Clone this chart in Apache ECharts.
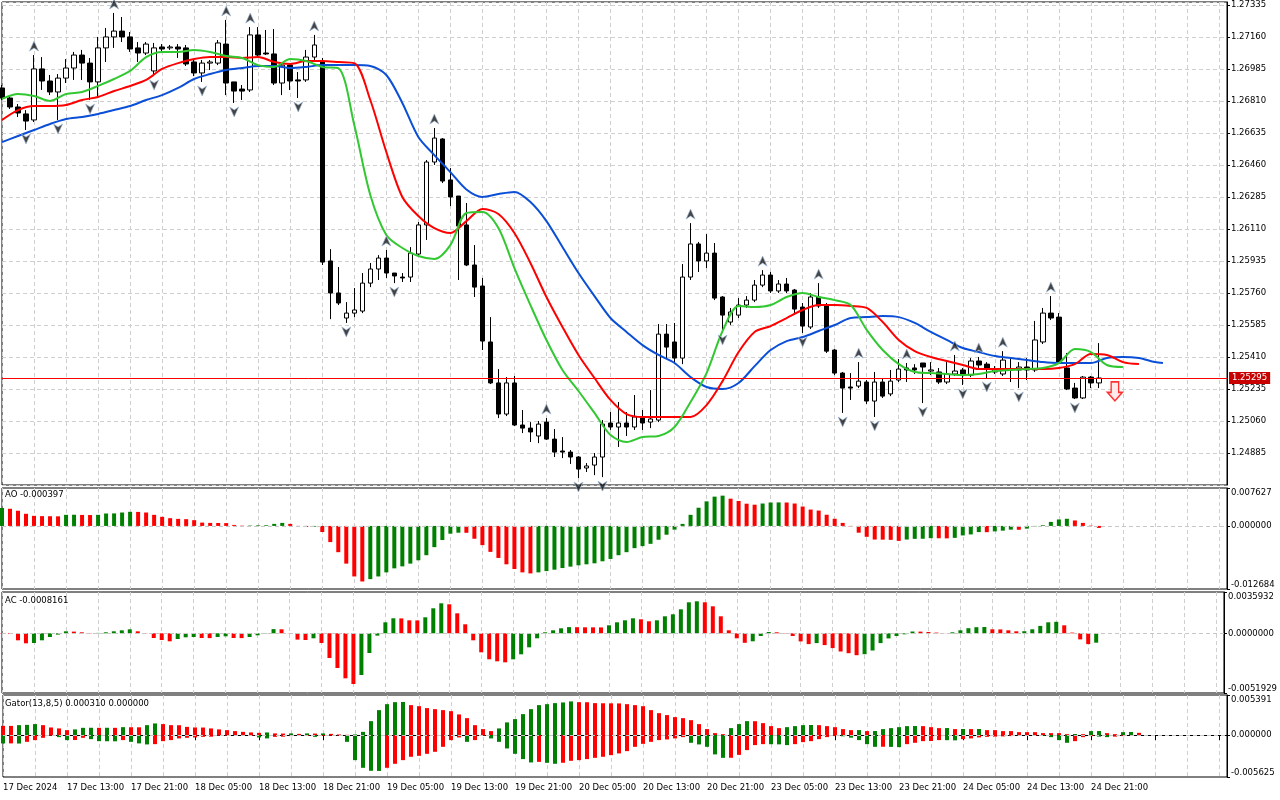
<!DOCTYPE html>
<html>
<head>
<meta charset="utf-8">
<title>H1 chart with Alligator, Fractals, AO, AC, Gator</title>
<script src="https://cdn.jsdelivr.net/npm/echarts@6/dist/echarts.min.js"></script>
<style>
html, body { margin: 0; padding: 0; background: #fff; }
#chart { width: 1280px; height: 800px; }
</style>
</head>
<body>
<div id="chart"></div>
<script>
// time axis labels, one every 8 bars
var tickLabels = ['17 Dec 2024', '17 Dec 13:00', '17 Dec 21:00', '18 Dec 05:00', '18 Dec 13:00', '18 Dec 21:00',
    '19 Dec 05:00', '19 Dec 13:00', '19 Dec 21:00', '20 Dec 05:00', '20 Dec 13:00', '20 Dec 21:00',
    '23 Dec 05:00', '23 Dec 13:00', '23 Dec 21:00', '24 Dec 05:00', '24 Dec 13:00', '24 Dec 21:00'];

var opens = [1.26881, 1.26826, 1.26777, 1.26739, 1.26706, 1.26985, 1.26919, 1.26859, 1.26935, 1.26990,
    1.27061, 1.27017, 1.26914, 1.27100, 1.27160, 1.27192, 1.27160, 1.27100, 1.27072, 1.26974,
    1.27105, 1.27100, 1.27105, 1.27100, 1.27023, 1.26963, 1.27017, 1.27017, 1.27121, 1.26914,
    1.26875, 1.26870, 1.27171, 1.27072, 1.27067, 1.26908, 1.27006, 1.26925, 1.26925, 1.27050,
    1.27023, 1.25935, 1.25760, 1.25623, 1.25650, 1.25661, 1.25814, 1.25891, 1.25951, 1.25869,
    1.25847, 1.25847, 1.25973, 1.26132, 1.26476, 1.26602, 1.26378, 1.26290, 1.26132, 1.25913,
    1.25798, 1.25492, 1.25268, 1.25098, 1.25268, 1.25038, 1.25021, 1.24978, 1.25054, 1.24961,
    1.24896, 1.24890, 1.24863, 1.24803, 1.24819, 1.24863, 1.25049, 1.25027, 1.25049, 1.25027,
    1.25076, 1.25054, 1.25065, 1.25535, 1.25492, 1.25404, 1.25847, 1.26028, 1.25935, 1.25978,
    1.25738, 1.25601, 1.25639, 1.25694, 1.25721, 1.25803, 1.25858, 1.25771, 1.25809, 1.25776,
    1.25683, 1.25574, 1.25738, 1.25689, 1.25448, 1.25322, 1.25246, 1.25251, 1.25273, 1.25169,
    1.25273, 1.25208, 1.25284, 1.25350, 1.25350, 1.25377, 1.25333, 1.25328, 1.25273, 1.25317,
    1.25339, 1.25311, 1.25388, 1.25371, 1.25328, 1.25317, 1.25339, 1.25339, 1.25355, 1.25339,
    1.25492, 1.25650, 1.25628, 1.25350, 1.25240, 1.25186, 1.25300, 1.25268];
var highs = [1.26897, 1.26837, 1.26793, 1.26760, 1.27061, 1.27050, 1.26952, 1.26957, 1.27039, 1.27078,
    1.27089, 1.27045, 1.27160, 1.27209, 1.27291, 1.27269, 1.27187, 1.27132, 1.27132, 1.27127,
    1.27121, 1.27116, 1.27121, 1.27116, 1.27034, 1.27034, 1.27034, 1.27143, 1.27253, 1.26914,
    1.26897, 1.27214, 1.27214, 1.27198, 1.27203, 1.27017, 1.27012, 1.26968, 1.27089, 1.27171,
    1.27045, 1.26000, 1.25902, 1.25710, 1.25787, 1.25869, 1.25924, 1.25967, 1.25995, 1.25869,
    1.25869, 1.26011, 1.26148, 1.26487, 1.26662, 1.26607, 1.26443, 1.26290, 1.26252, 1.26022,
    1.25842, 1.25628, 1.25344, 1.25300, 1.25306, 1.25120, 1.25054, 1.25060, 1.25076, 1.25016,
    1.24972, 1.24901, 1.24868, 1.24830, 1.24885, 1.25065, 1.25109, 1.25164, 1.25109, 1.25202,
    1.25120, 1.25229, 1.25590, 1.25590, 1.25596, 1.25918, 1.26142, 1.26039, 1.26082, 1.26033,
    1.25743, 1.25678, 1.25732, 1.25743, 1.25831, 1.25885, 1.25875, 1.25831, 1.25842, 1.25782,
    1.25705, 1.25760, 1.25814, 1.25705, 1.25453, 1.25328, 1.25322, 1.25382, 1.25284, 1.25328,
    1.25295, 1.25339, 1.25399, 1.25377, 1.25371, 1.25377, 1.25382, 1.25350, 1.25382, 1.25421,
    1.25350, 1.25404, 1.25410, 1.25382, 1.25360, 1.25442, 1.25404, 1.25382, 1.25404, 1.25607,
    1.25678, 1.25743, 1.25650, 1.25432, 1.25268, 1.25306, 1.25306, 1.25486];
var lows = [1.26815, 1.26766, 1.26722, 1.26651, 1.26695, 1.26870, 1.26842, 1.26706, 1.26908, 1.26925,
    1.26925, 1.26815, 1.26832, 1.27023, 1.27100, 1.27132, 1.27078, 1.27023, 1.27061, 1.26946,
    1.27078, 1.27089, 1.27045, 1.27001, 1.26946, 1.26914, 1.26979, 1.27006, 1.26842, 1.26799,
    1.26815, 1.26859, 1.27045, 1.27061, 1.26897, 1.26842, 1.26870, 1.26826, 1.26914, 1.27034,
    1.25913, 1.25617, 1.25694, 1.25596, 1.25628, 1.25650, 1.25792, 1.25831, 1.25842, 1.25814,
    1.25820, 1.25820, 1.25962, 1.26050, 1.26460, 1.26361, 1.26235, 1.25831, 1.25907, 1.25738,
    1.25448, 1.25262, 1.25076, 1.25087, 1.25032, 1.24994, 1.24945, 1.24939, 1.24956, 1.24863,
    1.24857, 1.24825, 1.24748, 1.24781, 1.24764, 1.24753, 1.25011, 1.24918, 1.24978, 1.25011,
    1.25011, 1.25021, 1.25054, 1.25399, 1.25371, 1.25371, 1.25831, 1.25875, 1.25896, 1.25721,
    1.25552, 1.25585, 1.25623, 1.25678, 1.25710, 1.25792, 1.25760, 1.25760, 1.25760, 1.25650,
    1.25541, 1.25563, 1.25678, 1.25432, 1.25311, 1.25104, 1.25175, 1.25240, 1.25153, 1.25082,
    1.25186, 1.25196, 1.25273, 1.25273, 1.25317, 1.25158, 1.25311, 1.25262, 1.25262, 1.25306,
    1.25257, 1.25300, 1.25350, 1.25295, 1.25317, 1.25306, 1.25273, 1.25240, 1.25284, 1.25328,
    1.25481, 1.25612, 1.25377, 1.25229, 1.25180, 1.25180, 1.25240, 1.25240];
var closes = [1.26826, 1.26777, 1.26744, 1.26700, 1.26985, 1.26919, 1.26859, 1.26935, 1.26990, 1.27061,
    1.27017, 1.26914, 1.27100, 1.27160, 1.27192, 1.27160, 1.27094, 1.27072, 1.27121, 1.27100,
    1.27094, 1.27105, 1.27094, 1.27012, 1.26963, 1.27017, 1.27023, 1.27127, 1.26908, 1.26864,
    1.26864, 1.27171, 1.27061, 1.27067, 1.26908, 1.27006, 1.26919, 1.26919, 1.27050, 1.27116,
    1.25929, 1.25760, 1.25705, 1.25650, 1.25667, 1.25814, 1.25891, 1.25951, 1.25869, 1.25853,
    1.25842, 1.25978, 1.26132, 1.26476, 1.26607, 1.26372, 1.26285, 1.26126, 1.25913, 1.25792,
    1.25497, 1.25268, 1.25098, 1.25268, 1.25038, 1.25021, 1.25000, 1.25043, 1.24961, 1.24890,
    1.24890, 1.24863, 1.24797, 1.24814, 1.24863, 1.25043, 1.25027, 1.25049, 1.25027, 1.25082,
    1.25049, 1.25071, 1.25535, 1.25464, 1.25404, 1.25847, 1.26028, 1.25935, 1.25978, 1.25732,
    1.25639, 1.25656, 1.25694, 1.25721, 1.25803, 1.25858, 1.25771, 1.25809, 1.25771, 1.25672,
    1.25579, 1.25738, 1.25689, 1.25442, 1.25322, 1.25240, 1.25240, 1.25278, 1.25169, 1.25273,
    1.25196, 1.25278, 1.25344, 1.25339, 1.25339, 1.25355, 1.25339, 1.25273, 1.25317, 1.25333,
    1.25311, 1.25388, 1.25366, 1.25344, 1.25344, 1.25393, 1.25344, 1.25355, 1.25339, 1.25503,
    1.25650, 1.25623, 1.25382, 1.25235, 1.25186, 1.25300, 1.25268, 1.25295];

// Alligator lines [bar, price]; read every second bar, already shifted forward
var jaw = [[0,1.26585],[2,1.26618],[4,1.26651],[6,1.26684],[8,1.26711],[10,1.26722],[12,1.26739],[14,1.26760],
    [16,1.26782],[18,1.26815],[20,1.26842],[22,1.26881],[24,1.26930],[26,1.26957],[28,1.26979],[30,1.26990],
    [32,1.27001],[34,1.27001],[36,1.26990],[38,1.26996],[40,1.27006],[42,1.27006],[44,1.27006],[46,1.27001],
    [48,1.26952],[50,1.26799],[52,1.26613],[54,1.26514],[56,1.26421],[58,1.26326],[60,1.26285],[62,1.26301],
    [64,1.26312],[66,1.26257],[68,1.26153],[70,1.26011],[72,1.25869],[74,1.25743],[76,1.25623],[78,1.25547],
    [80,1.25475],[82,1.25421],[84,1.25377],[86,1.25300],[88,1.25246],[90,1.25235],[92,1.25268],[94,1.25360],
    [96,1.25448],[98,1.25497],[100,1.25519],[102,1.25552],[104,1.25585],[106,1.25623],[108,1.25628],[110,1.25634],
    [112,1.25628],[114,1.25596],[116,1.25547],[118,1.25503],[120,1.25459],[122,1.25437],[124,1.25415],[126,1.25404],
    [128,1.25393],[130,1.25382],[132,1.25377],[134,1.25377],[136,1.25377],[138,1.25404],[140,1.25410],[142,1.25404],
    [144,1.25382],[145,1.25377]];
var teeth = [[0,1.26706],[2,1.26760],[4,1.26782],[6,1.26782],[8,1.26788],[10,1.26815],[12,1.26832],[14,1.26864],
    [16,1.26892],[18,1.26925],[20,1.26985],[22,1.27017],[24,1.27039],[26,1.27050],[28,1.27050],[30,1.27045],
    [32,1.27050],[34,1.27023],[36,1.27012],[38,1.27028],[40,1.27028],[42,1.27023],[44,1.27017],[46,1.26815],
    [48,1.26531],[50,1.26285],[52,1.26181],[54,1.26115],[56,1.26088],[58,1.26153],[60,1.26219],[62,1.26192],
    [64,1.26088],[66,1.25924],[68,1.25738],[70,1.25574],[72,1.25421],[74,1.25295],[76,1.25175],[78,1.25098],
    [80,1.25082],[82,1.25082],[84,1.25082],[86,1.25082],[88,1.25147],[90,1.25278],[92,1.25437],[94,1.25547],
    [96,1.25579],[98,1.25623],[100,1.25667],[102,1.25694],[104,1.25694],[106,1.25689],[108,1.25678],[110,1.25601],
    [112,1.25503],[114,1.25442],[116,1.25410],[118,1.25388],[120,1.25366],[122,1.25344],[124,1.25344],[126,1.25344],
    [128,1.25344],[130,1.25344],[132,1.25350],[134,1.25371],[136,1.25426],[138,1.25421],[140,1.25382],[142,1.25371]];
var lips = [[0,1.26821],[2,1.26848],[4,1.26837],[6,1.26810],[8,1.26848],[10,1.26859],[12,1.26892],[14,1.26930],
    [16,1.26974],[18,1.27050],[20,1.27078],[22,1.27078],[24,1.27089],[26,1.27078],[28,1.27056],[30,1.27045],
    [32,1.27006],[34,1.26996],[36,1.27039],[38,1.27028],[40,1.26996],[42,1.26990],[44,1.26678],[46,1.26296],
    [48,1.26077],[50,1.26006],[52,1.25962],[54,1.25946],[56,1.26022],[58,1.26197],[60,1.26203],[62,1.26115],
    [64,1.25896],[66,1.25694],[68,1.25503],[70,1.25339],[72,1.25224],[74,1.25104],[76,1.24983],[78,1.24945],
    [80,1.24972],[82,1.24978],[84,1.25027],[86,1.25164],[88,1.25322],[90,1.25552],[92,1.25689],[94,1.25683],
    [96,1.25694],[98,1.25738],[100,1.25760],[102,1.25738],[104,1.25721],[106,1.25694],[108,1.25558],[110,1.25448],
    [112,1.25371],[114,1.25328],[116,1.25322],[118,1.25317],[120,1.25311],[122,1.25317],[124,1.25333],[126,1.25339],
    [128,1.25344],[130,1.25350],[132,1.25377],[134,1.25453],[136,1.25437],[138,1.25366],[140,1.25355]];

// bars carrying a fractal
var fractalUp = [4, 14, 28, 31, 39, 48, 54, 68, 86, 95, 102, 107, 113, 119, 122, 125, 131];
var fractalDown = [3, 7, 11, 19, 25, 29, 37, 43, 49, 72, 75, 90, 100, 105, 109, 115, 120, 123, 127, 134];
var sellSignal = [139, 1.25222];

var aoValues = [0.00360, 0.00345, 0.00305, 0.00244, 0.00203, 0.00197, 0.00195, 0.00193, 0.00223, 0.00225,
    0.00221, 0.00219, 0.00223, 0.00250, 0.00252, 0.00270, 0.00284, 0.00282, 0.00270, 0.00223,
    0.00183, 0.00156, 0.00142, 0.00136, 0.00116, 0.00067, 0.00061, 0.00059, 0.00057, 0.00020,
    0.00006, 0.00008, 0.00012, 0.00014, 0.00041, 0.00061, 0.00041, 0.00002, -0.00020, -0.00014,
    -0.00122, -0.00325, -0.00528, -0.00758, -0.01016, -0.01117, -0.01070, -0.01016, -0.00934, -0.00853,
    -0.00813, -0.00758, -0.00691, -0.00589, -0.00427, -0.00284, -0.00156, -0.00136, -0.00138, -0.00258,
    -0.00386, -0.00522, -0.00644, -0.00772, -0.00867, -0.00934, -0.00955, -0.00934, -0.00908, -0.00880,
    -0.00847, -0.00819, -0.00792, -0.00772, -0.00752, -0.00711, -0.00664, -0.00589, -0.00528, -0.00447,
    -0.00406, -0.00360, -0.00278, -0.00177, -0.00075, 0.00041, 0.00223, 0.00366, 0.00494, 0.00589,
    0.00609, 0.00548, 0.00502, 0.00447, 0.00427, 0.00451, 0.00471, 0.00473, 0.00471, 0.00451,
    0.00390, 0.00329, 0.00309, 0.00225, 0.00144, 0.00061, -0.00020, -0.00136, -0.00219, -0.00274,
    -0.00276, -0.00280, -0.00301, -0.00274, -0.00260, -0.00258, -0.00246, -0.00248, -0.00250, -0.00240,
    -0.00191, -0.00171, -0.00124, -0.00126, -0.00110, -0.00095, -0.00075, -0.00077, -0.00055, -0.00008,
    0.00014, 0.00081, 0.00130, 0.00144, 0.00110, 0.00061, 0.00006, -0.000397];
var acValues = [-0.000026, -0.000061, -0.000609, -0.000870, -0.000844, -0.000609, -0.000322, -0.000113, 0.000174, 0.000148,
    0.000087, 0.000026, 0.000035, 0.000087, 0.000174, 0.000261, 0.000348, 0.000174, -0.000017, -0.000409,
    -0.000583, -0.000696, -0.000496, -0.000348, -0.000322, -0.000409, -0.000418, -0.000322, -0.000261, -0.000409,
    -0.000418, -0.000322, -0.000174, -0.000026, 0.000365, 0.000348, -0.000017, -0.000548, -0.000583, -0.000435,
    -0.000844, -0.002149, -0.003019, -0.003915, -0.004411, -0.003628, -0.001714, -0.000200, 0.000957, 0.001305,
    0.001296, 0.001131, 0.001122, 0.001392, 0.002175, 0.002610, 0.002523, 0.001740, 0.000783, -0.000609,
    -0.001653, -0.002262, -0.002436, -0.002523, -0.002262, -0.001827, -0.001218, -0.000435, 0.000087, 0.000261,
    0.000435, 0.000539, 0.000531, 0.000522, 0.000518, 0.000513, 0.000696, 0.000957, 0.001131, 0.001305,
    0.001218, 0.001044, 0.001131, 0.001479, 0.001653, 0.002088, 0.002697, 0.002784, 0.002697, 0.002349,
    0.001479, 0.000261, -0.000435, -0.000827, -0.000696, -0.000235, 0.000113, 0.000087, 0.000026, -0.000235,
    -0.000705, -0.000940, -0.000853, -0.001027, -0.001288, -0.001583, -0.001731, -0.001905, -0.001818, -0.001496,
    -0.000853, -0.000444, -0.000235, -0.000087, 0.000157, 0.000148, 0.000113, 0.000061, -0.000009, 0.000087,
    0.000261, 0.000444, 0.000531, 0.000548, 0.000348, 0.000339, 0.000261, 0.000174, 0.000183, 0.000348,
    0.000644, 0.000957, 0.001000, 0.000696, 0.000061, -0.000531, -0.000940, -0.0008161];
var gatorUp = [0.00125, 0.00124, 0.00134, 0.00138, 0.00148, 0.00134, 0.00103, 0.00090, 0.00067, 0.00077,
    0.00098, 0.00099, 0.00098, 0.00099, 0.00098, 0.00107, 0.00106, 0.00105, 0.00134, 0.00157,
    0.00148, 0.00134, 0.00133, 0.00111, 0.00103, 0.00102, 0.00090, 0.00077, 0.00067, 0.00054,
    0.00044, 0.00036, 0.00031, 0.00036, 0.00023, 0.00021, 0.00023, 0.00017, 0.00023, 0.00021,
    0.00023, 0.00017, 0.00009, 0.00004, 0.00009, 0.00044, 0.00188, 0.00336, 0.00416, 0.00443,
    0.00445, 0.00403, 0.00389, 0.00363, 0.00349, 0.00336, 0.00322, 0.00278, 0.00228, 0.00134,
    0.00081, 0.00054, 0.00090, 0.00171, 0.00215, 0.00282, 0.00349, 0.00403, 0.00416, 0.00430,
    0.00439, 0.00453, 0.00443, 0.00442, 0.00430, 0.00428, 0.00427, 0.00426, 0.00416, 0.00403,
    0.00389, 0.00336, 0.00295, 0.00269, 0.00242, 0.00228, 0.00201, 0.00148, 0.00081, 0.00027,
    0.00013, 0.00094, 0.00148, 0.00188, 0.00187, 0.00161, 0.00121, 0.00094, 0.00107, 0.00121,
    0.00134, 0.00136, 0.00134, 0.00121, 0.00107, 0.00081, 0.00067, 0.00068, 0.00054, 0.00055,
    0.00081, 0.00094, 0.00107, 0.00121, 0.00122, 0.00121, 0.00107, 0.00094, 0.00095, 0.00081,
    0.00082, 0.00081, 0.00082, 0.00067, 0.00067, 0.00054, 0.00054, 0.00040, 0.00040, 0.00040,
    0.00027, 0.00027, 0.00027, 0.00013, 0.00015, 0.00013, 0.00054, 0.00055, 0.00027, 0.00013,
    0.00040, 0.00042, 0.00031];
var gatorDown = [-0.00111, -0.00111, -0.00113, -0.00090, -0.00067, -0.00036, -0.00009, -0.00027, -0.00067, -0.00066,
    -0.00036, -0.00054, -0.00081, -0.00082, -0.00083, -0.00067, -0.00090, -0.00111, -0.00125, -0.00121,
    -0.00081, -0.00067, -0.00044, -0.00036, -0.00031, -0.00023, -0.00021, -0.00009, -0.00008, -0.00004,
    -0.00009, -0.00008, -0.00031, -0.00044, -0.00023, -0.00021, -0.00013, -0.00012, -0.00009, -0.00023,
    -0.00009, -0.00008, -0.00007, -0.00090, -0.00336, -0.00439, -0.00479, -0.00481, -0.00439, -0.00385,
    -0.00336, -0.00291, -0.00278, -0.00251, -0.00224, -0.00157, -0.00067, -0.00031, -0.00090, -0.00067,
    -0.00009, -0.00044, -0.00090, -0.00179, -0.00251, -0.00322, -0.00367, -0.00359, -0.00372, -0.00385,
    -0.00371, -0.00345, -0.00336, -0.00322, -0.00305, -0.00291, -0.00269, -0.00246, -0.00215, -0.00157,
    -0.00117, -0.00090, -0.00067, -0.00058, -0.00044, -0.00027, -0.00103, -0.00125, -0.00157, -0.00259,
    -0.00305, -0.00304, -0.00265, -0.00201, -0.00134, -0.00121, -0.00122, -0.00124, -0.00134, -0.00121,
    -0.00094, -0.00081, -0.00054, -0.00027, -0.00013, -0.00016, -0.00034, -0.00067, -0.00121, -0.00157,
    -0.00156, -0.00158, -0.00161, -0.00121, -0.00103, -0.00081, -0.00079, -0.00067, -0.00068, -0.00070,
    -0.00054, -0.00044, -0.00031, -0.00023, -0.00020, -0.00017, -0.00013, -0.00009, -0.00008, -0.00007,
    -0.00008, -0.00027, -0.00067, -0.00103, -0.00081, -0.00027, -0.00013, -0.00020, -0.00027, -0.00020,
    -0.00013];

// axis ranges: [min, max] (+ step for price)
var priceScale = [1.24710, 1.27351, 0.00175];
var aoScale = [-0.012684, 0.007627];
var acScale = [-0.0051929, 0.0035932];
var gatorScale = [-0.005625, 0.005391];

var FONT = '"DejaVu Sans", sans-serif';
var GREEN = '#008000';
var RED = '#ff0000';
var GRIDC = '#cfcfcf';
var SLOTS = 154;

var categories = [];
for (var i = 0; i < SLOTS; i++) categories.push(String(i));

var candles = opens.map(function (o, i) { return [o, closes[i], lows[i], highs[i]]; });

// MT5 colours each histogram bar by comparing it with the previous one
function colored(values, firstUp, byAbs) {
    return values.map(function (v, i) {
        var up;
        if (i === 0) up = firstUp;
        else up = byAbs ? Math.abs(v) > Math.abs(values[i - 1]) : v > values[i - 1];
        return { value: v, itemStyle: { color: up ? GREEN : RED } };
    });
}

var txt = { color: '#000', fontFamily: FONT, fontSize: 8.5 };
var dashed = { color: GRIDC, type: [4, 3], width: 1 };

function xAxisFor(gi, withLabels) {
    return {
        type: 'category', gridIndex: gi, data: categories, boundaryGap: false,
        axisLine: { show: withLabels, lineStyle: { color: '#000' } },
        axisTick: { show: withLabels, length: 5, interval: function (i) { return i % 8 === 0; }, lineStyle: { color: '#000' } },
        axisLabel: {
            show: withLabels, align: 'left', margin: 6, color: '#000', fontFamily: FONT, fontSize: 8.5,
            interval: function (i) { return i % 8 === 0 && i / 8 < tickLabels.length; },
            formatter: function (v, i) { return tickLabels[i / 8] || ''; }
        },
        splitLine: { show: true, interval: function (i) { return i % 4 === 0; }, lineStyle: dashed }
    };
}

function indicatorAxis(gi, scale, digits) {
    var vals = [scale[0], 0, scale[1]];
    return {
        type: 'value', gridIndex: gi, position: 'right', min: scale[0], max: scale[1],
        axisLine: { show: true, lineStyle: { color: '#000' } },
        axisTick: { show: true, length: 3, customValues: vals, lineStyle: { color: '#000' } },
        axisLabel: {
            customValues: vals, margin: 4, color: '#000', fontFamily: FONT, fontSize: 8.5,
            verticalAlignMaxLabel: 'top', verticalAlignMinLabel: 'bottom',
            formatter: function (v) { return v.toFixed(digits); }
        },
        splitLine: { show: false }
    };
}

var zeroLine = {
    silent: true, symbol: ['none', 'none'], label: { show: false },
    lineStyle: { color: '#c8c8c8', type: [4, 3], width: 1 },
    data: [{ yAxis: 0 }]
};

var gridBase = { left: 2, right: 53, show: true, borderColor: '#000', borderWidth: 1 };
function grid(top, height) { return Object.assign({ top: top, height: height }, gridBase); }

var last = closes.length - 1;

var option = {
    animation: false,
    backgroundColor: '#fff',
    title: [
        { text: 'AO ' + aoValues[aoValues.length - 1].toFixed(6), left: 4, top: 489, padding: 1, textStyle: Object.assign({ fontWeight: 'normal' }, txt) },
        { text: 'AC ' + acValues[acValues.length - 1].toFixed(7), left: 4, top: 595, padding: 1, textStyle: Object.assign({ fontWeight: 'normal' }, txt) },
        { text: 'Gator(13,8,5) ' + gatorUp[gatorUp.length - 1].toFixed(6) + ' 0.000000', left: 4, top: 698, padding: 1, textStyle: Object.assign({ fontWeight: 'normal' }, txt) }
    ],
    grid: [grid(2, 483), grid(488, 101), grid(592, 101), grid(695, 82)],
    xAxis: [xAxisFor(0, false), xAxisFor(1, false), xAxisFor(2, false), xAxisFor(3, true)],
    yAxis: [
        {
            type: 'value', gridIndex: 0, position: 'right',
            min: priceScale[0], max: priceScale[1], interval: priceScale[2],
            axisLine: { show: true, lineStyle: { color: '#000' } },
            axisTick: { show: true, length: 3, lineStyle: { color: '#000' } },
            axisLabel: {
                margin: 4, color: '#000', fontFamily: FONT, fontSize: 8.5,
                showMinLabel: false, showMaxLabel: false,
                formatter: function (v) { return v.toFixed(5); }
            },
            splitLine: { show: true, lineStyle: dashed }
        },
        indicatorAxis(1, aoScale, 6),
        indicatorAxis(2, acScale, 7),
        indicatorAxis(3, gatorScale, 6)
    ],
    series: [
        {
            name: 'Price', type: 'candlestick', xAxisIndex: 0, yAxisIndex: 0, z: 2,
            data: candles, barWidth: 5,
            itemStyle: { color: '#ffffff', color0: '#000000', borderColor: '#000000', borderColor0: '#000000', borderWidth: 1 }
        },
        {
            name: 'Jaw', type: 'line', xAxisIndex: 0, yAxisIndex: 0, z: 3, data: jaw, smooth: 0.3, showSymbol: false,
            lineStyle: { color: '#0a4fd6', width: 2 },
            // current bid line with its price tag
            markLine: {
                silent: true, symbol: ['none', 'none'], precision: 5,
                lineStyle: { color: '#ff0000', width: 1, type: 'solid' },
                label: {
                    show: true, position: 'end', distance: 2,
                    formatter: function (p) { return Number(p.value).toFixed(5); },
                    color: '#fff', backgroundColor: '#c80000', padding: [2, 3, 1, 3],
                    fontFamily: FONT, fontSize: 8.5
                },
                data: [{ yAxis: closes[last] }]
            }
        },
        { name: 'Teeth', type: 'line', xAxisIndex: 0, yAxisIndex: 0, z: 3, data: teeth, smooth: 0.3, showSymbol: false, lineStyle: { color: '#ff0000', width: 2 } },
        { name: 'Lips', type: 'line', xAxisIndex: 0, yAxisIndex: 0, z: 3, data: lips, smooth: 0.3, showSymbol: false, lineStyle: { color: '#32c832', width: 2 } },
        {
            name: 'Fractal up', type: 'scatter', xAxisIndex: 0, yAxisIndex: 0, z: 4,
            data: fractalUp.map(function (i) { return [i, highs[i]]; }),
            symbol: 'path://M5,0 L10,10 L5,7 L0,10 Z', symbolSize: [9, 10], symbolOffset: [0, -9],
            itemStyle: { color: '#151515', borderColor: '#9fb8d8', borderWidth: 0.8 }
        },
        {
            name: 'Fractal down', type: 'scatter', xAxisIndex: 0, yAxisIndex: 0, z: 4,
            data: fractalDown.map(function (i) { return [i, lows[i]]; }),
            symbol: 'path://M0,0 L5,3 L10,0 L5,10 Z', symbolSize: [9, 10], symbolOffset: [0, 9],
            itemStyle: { color: '#151515', borderColor: '#9fb8d8', borderWidth: 0.8 }
        },
        {
            name: 'Sell', type: 'scatter', xAxisIndex: 0, yAxisIndex: 0, z: 4,
            data: [sellSignal],
            symbol: 'path://M4,0 L12,0 L12,11 L16,11 L8,20 L0,11 L4,11 Z', symbolSize: [15, 19],
            itemStyle: { color: '#ffe4e4', borderColor: '#ff0000', borderWidth: 1.5 }
        },
        {
            name: 'AO', type: 'bar', xAxisIndex: 1, yAxisIndex: 1, barWidth: 4,
            data: colored(aoValues, true, false), markLine: zeroLine
        },
        {
            name: 'AC', type: 'bar', xAxisIndex: 2, yAxisIndex: 2, barWidth: 4,
            data: colored(acValues, false, false), markLine: zeroLine
        },
        {
            name: 'Gator up', type: 'bar', xAxisIndex: 3, yAxisIndex: 3, barWidth: 4, barGap: '-100%',
            data: colored(gatorUp, false, true), markLine: zeroLine
        },
        {
            name: 'Gator down', type: 'bar', xAxisIndex: 3, yAxisIndex: 3, barWidth: 4, barGap: '-100%',
            data: colored(gatorDown, true, true)
        }
    ]
};

var chart = echarts.init(document.getElementById('chart'));
chart.setOption(option);
window.onresize = function () { chart.resize(); };
</script>
</body>
</html>
